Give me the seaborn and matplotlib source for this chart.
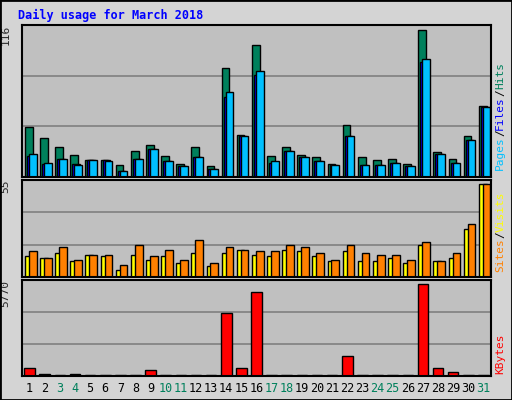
import matplotlib.pyplot as plt
import numpy as np
import seaborn as sns

days = [str(d) for d in range(1, 32)]
weekend = [3, 4, 10, 11, 17, 18, 24, 25, 31]

hits = [38.4, 30, 23, 17, 13, 13, 9.4, 20, 24.7, 16, 10, 23, 8.6, 83, 32, 101,
        16, 23, 17, 15.5, 10, 40, 15.5, 13, 14, 10, 112.5, 19, 14, 31, 54.4]
files = [15.8, 10, 14, 10, 13, 12.7, 4.8, 14, 21, 12.5, 8.6, 15.5, 6.4, 61, 31, 78,
         11, 20, 15.5, 12.5, 9.4, 31.5, 9.4, 9.4, 11, 8.6, 88, 17.8, 11, 28, 53.7]
pages = [17.8, 11, 14, 9.4, 13, 12.5, 4.8, 14, 21, 12.5, 8.6, 15.5, 6.4, 65, 31, 81,
         12.5, 20, 15.5, 12.5, 9.4, 31.5, 9.4, 9.4, 11, 8.6, 90, 17.8, 11, 28, 53.7]
sites = [12.7, 11.5, 14.5, 9.7, 13.3, 12.7, 4.4, 13.3, 10.3, 12.7, 8.5, 14.5, 6.8, 14.5, 16.3, 13.3,
         12.7, 16.3, 15.7, 12.7, 9.7, 15.7, 9.7, 9.7, 11.5, 8.5, 18.7, 9.7, 11.5, 28.4, 55]
visits = [15.7, 11.5, 17.5, 10.3, 13.3, 13.3, 7.3, 18.7, 12.7, 16.3, 10.3, 22.2, 8.5, 17.5, 16.3, 15.7,
          15.7, 18.7, 17.5, 14.5, 10.3, 18.7, 14.5, 13.3, 13.3, 10.3, 20.5, 9.7, 14.5, 31.2, 55]
kbytes = [526, 147, 40, 147, 40, 40, 40, 40, 400, 40, 40, 40, 40, 3938, 526, 5265,
          40, 40, 40, 40, 40, 1285, 40, 40, 40, 40, 5770, 526, 274, 40, 40]

sns.set_style('white')
plt.rcParams['font.family'] = ['DejaVu Sans Mono']

fig = plt.figure(figsize=(5.12, 4.0), dpi=100, facecolor='#d4d4d4')
x = np.arange(31)
ec = dict(edgecolor='black', linewidth=1)

axes = []
specs = [(0.5575, 0.38, 116), (0.3075, 0.2425, 57.5), (0.06, 0.24, 6020)]
for bottom, height, top in specs:
    ax = fig.add_axes([0.043, bottom, 0.916, height])
    ax.set_facecolor('#c0c0c0')
    ax.set_xlim(-0.5, 30.5)
    ax.set_ylim(0, top)
    for g in (top / 3, 2 * top / 3):
        ax.axhline(g, color='#808080', lw=1.2, zorder=0)
    ax.set_xticks([])
    ax.set_yticks([])
    for s in ax.spines.values():
        s.set_color('black')
        s.set_linewidth(1.5)
    axes.append(ax)
ax1, ax2, ax3 = axes

ax1.bar(x - 0.05, hits, width=0.51, color='#00805c', **ec)
ax1.bar(x + 0.08, files, width=0.51, color='#0000ff', **ec)
ax1.bar(x + 0.21, pages, width=0.51, color='#00c0ff', **ec)

ax2.bar(x - 0.05, sites, width=0.51, color='#ffff00', **ec)
ax2.bar(x + 0.21, visits, width=0.51, color='#ff8000', **ec)

sns.barplot(x=x, y=kbytes, color='#ff0000', width=0.7, edgecolor='black',
            linewidth=1, saturation=1, ax=ax3, native_scale=True)
ax3.set_xlim(-0.5, 30.5)
ax3.set_xticks(x)
ax3.set_xticklabels(days, fontsize=8.5)
ax3.tick_params(length=0, pad=4)
for lab, d in zip(ax3.get_xticklabels(), range(1, 32)):
    lab.set_color('#00805c' if d in weekend else 'black')

for ax, lab in zip(axes, ['116', '55', '5770']):
    ax.text(-0.035, 1.0, lab, transform=ax.transAxes, rotation=90,
            ha='center', va='top', fontsize=8)

fig.text(0.035, 0.962, 'Daily usage for March 2018', color='#0000ff',
         fontsize=8.5, fontweight='bold', ha='left', va='center')

renderer = fig.canvas.get_renderer()


def side_label(parts, y0):
    y = y0
    for txt, col in parts:
        t = fig.text(0.977, y, txt, color=col, rotation=90, fontsize=8,
                     ha='center', va='bottom')
        bb = t.get_window_extent(renderer)
        y += bb.height / fig.bbox.height


side_label([('Pages', '#00c0ff'), ('/', 'black'), ('Files', '#0000ff'),
            ('/', 'black'), ('Hits', '#00805c')], 0.575)
side_label([('Sites', '#ff8000'), ('/', 'black'), ('Visits', '#ffff00')], 0.32)
side_label([('KBytes', '#ff0000')], 0.065)

fig.patches.append(plt.Rectangle((0, 0), 1, 1, transform=fig.transFigure,
                                 fill=False, edgecolor='black', lw=2))
fig.savefig('out.png', dpi=100, facecolor=fig.get_facecolor())
